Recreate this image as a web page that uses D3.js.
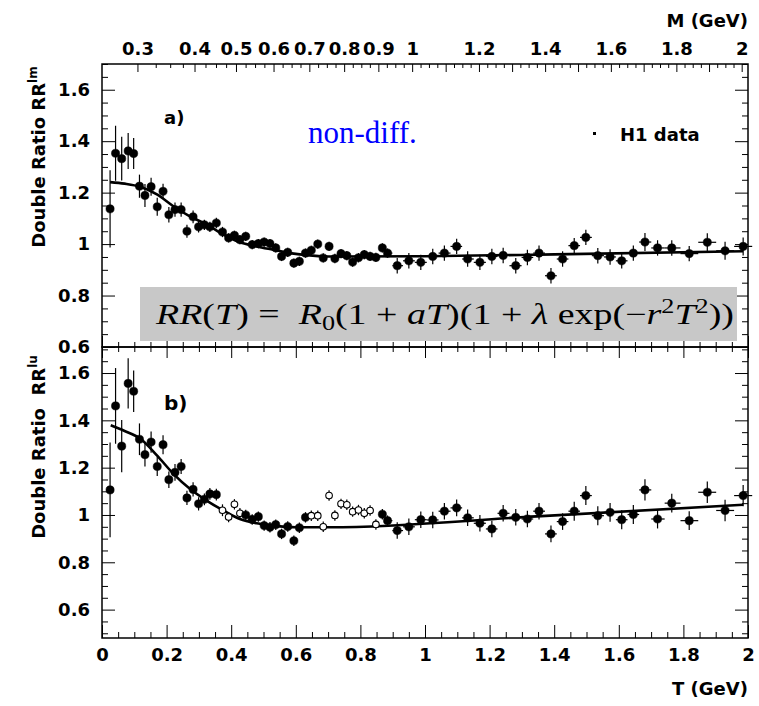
<!DOCTYPE html>
<html>
<head>
<meta charset="utf-8">
<script src="https://cdn.jsdelivr.net/npm/d3@7"></script>
<style>
  body { margin: 0; background: #fff; }
  svg text { font-family: "DejaVu Sans", sans-serif; font-weight: bold; }
</style>
</head>
<body>
<svg id="chart" width="759" height="706"></svg>
<script>
// T bins (GeV), shared by both panels
const tBins = [0.025, 0.042, 0.061, 0.081, 0.098, 0.116, 0.133, 0.152, 0.171, 0.189,
  0.207, 0.226, 0.245, 0.263, 0.282, 0.299, 0.317, 0.334, 0.354, 0.373,
  0.392, 0.410, 0.427, 0.445, 0.465, 0.484, 0.502, 0.520, 0.538, 0.556,
  0.575, 0.594, 0.611, 0.630, 0.648, 0.668, 0.685, 0.703, 0.721, 0.740,
  0.758, 0.776, 0.794, 0.812, 0.830, 0.848, 0.868, 0.884,
  0.914, 0.950, 0.987, 1.024, 1.060, 1.098, 1.132, 1.170, 1.207, 1.242,
  1.281, 1.317, 1.353, 1.390, 1.426, 1.462, 1.498, 1.535, 1.573, 1.609,
  1.645, 1.681, 1.720, 1.764, 1.818, 1.874, 1.929, 1.985]

// panel a) RR^lm
const rrA = [1.137, 1.353, 1.332, 1.362, 1.352, 1.225, 1.189, 1.223, 1.145, 1.205,
  1.114, 1.134, 1.134, 1.050, 1.106, 1.067, 1.075, 1.067, 1.082, 1.047,
  1.024, 1.034, 1.017, 1.030, 0.998, 1.002, 1.008, 1.002, 0.985, 0.952,
  0.968, 0.926, 0.933, 0.965, 0.976, 1.000, 0.946, 0.991, 0.944, 0.963,
  0.955, 0.930, 0.947, 0.959, 0.952, 0.948, 0.985, 0.965,
  0.916, 0.935, 0.929, 0.952, 0.965, 0.991, 0.942, 0.929, 0.952, 0.956,
  0.916, 0.948, 0.965, 0.877, 0.942, 0.994, 1.026, 0.955, 0.950, 0.935,
  0.965, 1.008, 0.985, 0.985, 0.963, 1.007, 0.974, 0.991]
const errA = [0.15, 0.107, 0.085, 0.07, 0.06, 0.045, 0.045, 0.035, 0.035, 0.03,
  0.03, 0.028, 0.028, 0.025, 0.025, 0.022, 0.02, 0.02, 0.02, 0.02,
  0.018, 0.018, 0.018, 0.018, 0.018, 0.018, 0.018, 0.018, 0.018, 0.018,
  0.018, 0.018, 0.018, 0.018, 0.018, 0.018, 0.018, 0.018, 0.018, 0.018,
  0.018, 0.018, 0.018, 0.018, 0.018, 0.018, 0.018, 0.018,
  0.03, 0.03, 0.03, 0.03, 0.03, 0.03, 0.03, 0.03, 0.03, 0.03,
  0.03, 0.03, 0.03, 0.03, 0.03, 0.03, 0.03, 0.03, 0.03, 0.03,
  0.03, 0.035, 0.03, 0.03, 0.03, 0.035, 0.035, 0.035]
const fitTA = [0.025, 0.07, 0.118, 0.170, 0.221, 0.272, 0.324, 0.376, 0.427, 0.479, 0.530, 0.582, 0.633, 0.70, 1.0, 1.4, 1.985]
const fitRA = [1.241, 1.235, 1.223, 1.193, 1.147, 1.108, 1.076, 1.037, 1.007, 0.991, 0.978, 0.965, 0.957, 0.952, 0.953, 0.960, 0.972]

// panel b) RR^lu
const rrB = [1.106, 1.461, 1.291, 1.556, 1.523, 1.320, 1.255, 1.308, 1.205, 1.297,
  1.149, 1.180, 1.205, 1.072, 1.108, 1.047, 1.066, 1.089, 1.086, 1.020,
  0.991, 1.045, 1.007, 1.000, 0.981, 0.993, 0.955, 0.948, 0.959, 0.920,
  0.951, 0.891, 0.946, 0.990, 0.997, 0.997, 0.950, 1.082, 0.998, 1.047,
  1.043, 1.014, 1.021, 1.007, 1.019, 0.960, 1.003, 0.976,
  0.934, 0.950, 0.980, 0.979, 1.016, 1.030, 0.988, 0.965, 0.941, 1.007,
  0.990, 0.983, 1.016, 0.920, 0.972, 1.016, 1.082, 0.997, 1.011, 0.980,
  1.002, 1.106, 0.983, 1.050, 0.976, 1.096, 1.019, 1.082]
const errB = [0.2, 0.16, 0.11, 0.106, 0.088, 0.067, 0.05, 0.045, 0.04, 0.04,
  0.035, 0.035, 0.032, 0.03, 0.03, 0.028, 0.025, 0.025, 0.025, 0.025,
  0.022, 0.022, 0.022, 0.022, 0.022, 0.022, 0.022, 0.022, 0.022, 0.022,
  0.022, 0.022, 0.022, 0.022, 0.022, 0.022, 0.022, 0.022, 0.022, 0.022,
  0.022, 0.022, 0.022, 0.022, 0.022, 0.022, 0.022, 0.022,
  0.035, 0.035, 0.035, 0.035, 0.035, 0.035, 0.035, 0.035, 0.035, 0.035,
  0.035, 0.035, 0.035, 0.035, 0.035, 0.04, 0.04, 0.04, 0.04, 0.04,
  0.04, 0.045, 0.04, 0.04, 0.04, 0.045, 0.045, 0.045]
// open markers in panel b (index into tBins)
const openB = [19, 20, 21, 22, 34, 35, 36, 37, 38, 39, 40, 41, 42, 43, 44, 45]
const fitTB = [0.027, 0.07, 0.118, 0.170, 0.221, 0.272, 0.324, 0.376, 0.427, 0.479, 0.530, 0.60, 0.706, 1.346, 1.985]
const fitRB = [1.379, 1.355, 1.323, 1.252, 1.174, 1.111, 1.061, 1.019, 0.983, 0.965, 0.955, 0.948, 0.948, 0.994, 1.043]

// axis ticks
const tTicks = [0, 0.2, 0.4, 0.6, 0.8, 1, 1.2, 1.4, 1.6, 1.8, 2]
const tLabels = ['0', '0.2', '0.4', '0.6', '0.8', '1', '1.2', '1.4', '1.6', '1.8', '2']
const yTicks = [0.6, 0.8, 1, 1.2, 1.4, 1.6]
const yLabels = ['0.6', '0.8', '1', '1.2', '1.4', '1.6']
const mTicks = [0.3, 0.4, 0.5, 0.6, 0.7, 0.8, 0.9, 1, 1.1, 1.2, 1.3, 1.4, 1.5, 1.6, 1.7, 1.8, 1.9, 2]
const mLabels = ['0.3', '0.4', '0.5', '0.6', '0.7', '0.8', '0.9', '1', '', '1.2', '', '1.4', '', '1.6', '', '1.8', '', '2']
const mPi = 0.1396

const svg = d3.select('#chart')
const left = 102, right = 748, topA = 64, mid = 347, bot = 638
const fs = 18

const x = d3.scaleLinear().domain([0, 2]).range([left, right])
const yA = d3.scaleLinear().domain([0.6, 1.7]).range([mid, topA])
const yB = d3.scaleLinear().domain([0.48, 1.71]).range([bot, mid])

const tOfM = m => Math.sqrt(m * m - 4 * mPi * mPi)
const tMinor = d3.range(0, 2.001, 0.05).filter(v => Math.abs(v * 5 - Math.round(v * 5)) > 1e-6)
const mMinor = d3.range(0.3, 2.001, 0.025).filter(m => Math.abs(m * 10 - Math.round(m * 10)) > 1e-6)

function styleAxis(g) {
  g.select('.domain').remove()
  g.selectAll('.tick line').attr('stroke', '#000').attr('stroke-width', 1)
  g.selectAll('.tick text').attr('fill', '#000').style('font-size', fs + 'px')
}

function drawPanel(y, y0, y1, rr, err, open, fitT, fitR) {
  const g = svg.append('g')
  const yMinor = d3.range(0.45, 1.76, 0.05)
    .filter(v => v >= y.domain()[0] - 1e-6 && v <= y.domain()[1] + 1e-6)
    .filter(v => Math.abs(v * 5 - Math.round(v * 5)) > 1e-6)

  // y axes
  g.append('g').attr('transform', `translate(${left},0)`)
    .call(d3.axisLeft(y).tickValues(yTicks).tickFormat((d, i) => yLabels[i])
      .tickSizeInner(-13).tickSizeOuter(0).tickPadding(12))
    .call(styleAxis)
  g.append('g').attr('transform', `translate(${left},0)`)
    .call(d3.axisLeft(y).tickValues(yMinor).tickFormat('').tickSizeInner(-6).tickSizeOuter(0))
    .call(styleAxis)
  g.append('g').attr('transform', `translate(${right},0)`)
    .call(d3.axisRight(y).tickValues(yTicks).tickFormat('').tickSizeInner(-13).tickSizeOuter(0))
    .call(styleAxis)
  g.append('g').attr('transform', `translate(${right},0)`)
    .call(d3.axisRight(y).tickValues(yMinor).tickFormat('').tickSizeInner(-6).tickSizeOuter(0))
    .call(styleAxis)

  // frame
  g.append('rect').attr('x', left).attr('y', y0).attr('width', right - left).attr('height', y1 - y0)
    .attr('fill', 'none').attr('stroke', '#000').attr('stroke-width', 1.5)

  // fit curve
  g.append('path')
    .datum(fitT.map((t, i) => [t, fitR[i]]))
    .attr('fill', 'none').attr('stroke', '#000').attr('stroke-width', 2.6)
    .attr('d', d3.line().x(d => x(d[0])).y(d => y(d[1])).curve(d3.curveMonotoneX))

  // data points with error bars
  const pts = tBins.map((t, i) => {
    const prev = i > 0 ? tBins[i - 1] : t - (tBins[1] - t)
    const next = i < tBins.length - 1 ? tBins[i + 1] : t + (t - tBins[i - 1])
    return { t, v: rr[i], e: err[i], lo: (t + prev) / 2, hi: (t + next) / 2, open: open.includes(i) }
  })
  const p = g.selectAll('g.pt').data(pts).enter().append('g').attr('class', 'pt')
  p.append('line')
    .attr('x1', d => x(d.t)).attr('x2', d => x(d.t))
    .attr('y1', d => y(d.v - d.e)).attr('y2', d => y(Math.min(d.v + d.e, y.domain()[1])))
    .attr('stroke', '#000').attr('stroke-width', 1.2)
  p.append('line')
    .attr('x1', d => x(d.lo)).attr('x2', d => x(d.hi))
    .attr('y1', d => y(d.v)).attr('y2', d => y(d.v))
    .attr('stroke', '#000').attr('stroke-width', 1.2)
  p.append('circle')
    .attr('cx', d => x(d.t)).attr('cy', d => y(d.v))
    .attr('r', d => d.open ? 3.3 : 4.1)
    .attr('fill', d => d.open ? '#fff' : '#000')
    .attr('stroke', '#000').attr('stroke-width', d => d.open ? 1.1 : 0.5)
  return g
}

drawPanel(yA, topA, mid, rrA, errA, [], fitTA, fitRA)
drawPanel(yB, mid, bot, rrB, errB, openB, fitTB, fitRB)

// T axes: bottom of panel b (with labels), shared middle line
svg.append('g').attr('transform', `translate(0,${bot})`)
  .call(d3.axisBottom(x).tickValues(tTicks).tickFormat((d, i) => tLabels[i])
    .tickSizeInner(-13).tickSizeOuter(0).tickPadding(10))
  .call(styleAxis)
svg.append('g').attr('transform', `translate(0,${bot})`)
  .call(d3.axisBottom(x).tickValues(tMinor).tickFormat('').tickSizeInner(-6).tickSizeOuter(0))
  .call(styleAxis)
svg.append('g').attr('transform', `translate(0,${mid})`)
  .call(d3.axisBottom(x).tickValues(tTicks).tickFormat('').tickSizeInner(-11).tickSizeOuter(0))
  .call(styleAxis)
svg.append('g').attr('transform', `translate(0,${mid})`)
  .call(d3.axisBottom(x).tickValues(tMinor).tickFormat('').tickSizeInner(-5).tickSizeOuter(0))
  .call(styleAxis)
svg.append('g').attr('transform', `translate(0,${mid})`)
  .call(d3.axisTop(x).tickValues(tTicks).tickFormat('').tickSizeInner(-11).tickSizeOuter(0))
  .call(styleAxis)
svg.append('g').attr('transform', `translate(0,${mid})`)
  .call(d3.axisTop(x).tickValues(tMinor).tickFormat('').tickSizeInner(-5).tickSizeOuter(0))
  .call(styleAxis)

// M axis on top of panel a
svg.append('g').attr('transform', `translate(0,${topA})`)
  .call(d3.axisTop(x).tickValues(mTicks.map(tOfM)).tickFormat((d, i) => mLabels[i])
    .tickSizeInner(-8).tickSizeOuter(0).tickPadding(9))
  .call(styleAxis)
svg.append('g').attr('transform', `translate(0,${topA})`)
  .call(d3.axisTop(x).tickValues(mMinor.map(tOfM)).tickFormat('').tickSizeInner(-4).tickSizeOuter(0))
  .call(styleAxis)

// axis titles
svg.append('text').attr('x', right).attr('y', 27).attr('text-anchor', 'end')
  .style('font-size', fs + 'px').text('M (GeV)')
svg.append('text').attr('x', right).attr('y', 695).attr('text-anchor', 'end')
  .style('font-size', fs + 'px').text('T (GeV)')

function yTitle(cy, main, sup) {
  const t = svg.append('text').attr('transform', `translate(45,${cy}) rotate(-90)`)
    .attr('text-anchor', 'middle').style('font-size', '18px')
  t.append('tspan').text(main)
  t.append('tspan').attr('dy', -8).style('font-size', '12px').text(sup)
}
yTitle(157, 'Double Ratio RR', 'lm')
yTitle(447, 'Double Ratio\u00a0 RR', 'lu')

// panel labels and legend
svg.append('text').attr('x', 164).attr('y', 124).style('font-size', '18px').text('a)')
svg.append('text').attr('x', 164).attr('y', 410).style('font-size', '20px').text('b)')
svg.append('text').attr('x', 308).attr('y', 143)
  .style('font-family', '"Liberation Serif", serif').style('font-weight', 'normal')
  .style('font-size', '31px').attr('fill', '#0000ff').text('non-diff.')
svg.append('rect').attr('x', 593).attr('y', 132).attr('width', 3).attr('height', 3).attr('fill', '#000')
svg.append('text').attr('x', 620).attr('y', 141).style('font-size', '18px').text('H1 data')

// formula box
svg.append('rect').attr('x', 140).attr('y', 287).attr('width', 597).attr('height', 54).attr('fill', '#c8c8c8')
const f = svg.append('text').attr('x', 156).attr('y', 324)
  .attr('textLength', 578).attr('lengthAdjust', 'spacingAndGlyphs')
  .style('font-family', '"Liberation Serif", serif').style('font-weight', 'normal').style('font-size', '29px')
const parts = [
  ['RR', 'i'], ['(', 'n'], ['T', 'i'], [')\u00a0=\u00a0\u00a0', 'n'],
  ['R', 'i'], ['0', 's'], ['(1\u00a0+\u00a0', 'n'], ['aT', 'i'], [')(1\u00a0+\u00a0', 'n'],
  ['\u03bb', 'i'], ['\u00a0exp(\u2212', 'n'], ['r', 'i'], ['2', 'p'], ['T', 'i'], ['2', 'p'], ['))', 'n']
]
let shift = 0
parts.forEach(([s, k]) => {
  const target = k === 's' ? 6 : k === 'p' ? -11 : 0
  const ts = f.append('tspan').text(s)
  if (target !== shift) ts.attr('dy', target - shift)
  shift = target
  if (k === 'i') ts.style('font-style', 'italic')
  if (k === 's' || k === 'p') ts.style('font-size', '20px')
})
</script>
</body>
</html>
